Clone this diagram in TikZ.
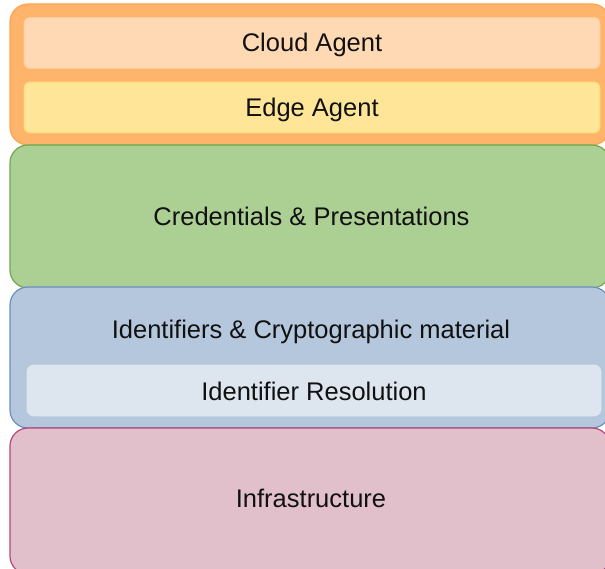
\documentclass[tikz,border=0pt]{standalone}
\usepackage{fontspec}
\setmainfont{Liberation Sans}
\definecolor{orfill}{HTML}{FFB46B}
\definecolor{orline}{HTML}{FFA64D}
\definecolor{cloudfill}{HTML}{FFD9B4}
\definecolor{cloudline}{HTML}{FFCC99}
\definecolor{edgefill}{HTML}{FFE597}
\definecolor{edgeline}{HTML}{FFD966}
\definecolor{grfill}{HTML}{ACD094}
\definecolor{grline}{HTML}{6DA84F}
\definecolor{blfill}{HTML}{B4C7DC}
\definecolor{blline}{HTML}{6C8EBF}
\definecolor{resfill}{HTML}{DDE5EE}
\definecolor{pkfill}{HTML}{E1C0CB}
\definecolor{pkline}{HTML}{B3467A}
\definecolor{txt}{HTML}{111111}
\tikzset{
  layer/.style={rounded corners=18pt, line width=1.2pt, inner sep=0pt},
  inner/.style={rounded corners=7pt, line width=0.8pt, inner sep=0pt, minimum width=576pt, minimum height=51pt},
  lbl/.style={text=txt, font=\fontsize{25.5}{30}\selectfont, inner sep=0pt, text height=18.3pt, text depth=0pt}
}
\begin{document}
\begin{tikzpicture}[x=1pt,y=-1pt]
\useasboundingbox (0,0) rectangle (605,569);
\clip (0,0) rectangle (605,569);
% orange agents layer
\node[layer, draw=orline, fill=orfill, minimum width=600pt, minimum height=141pt] (agents) at (310,74.5) {};
\node[inner, draw=cloudline, fill=cloudfill, rounded corners=6pt] (cloud) at (312,43) {};
\node[lbl] (cloudlbl) at (312,42.5) {Cloud Agent};
\node[inner, draw=edgeline, fill=edgefill, rounded corners=6pt] (edge) at (312,107.5) {};
\node[lbl] (edgelbl) at (312,107.3) {Edge Agent};
% green credentials layer
\node[layer, draw=grline, fill=grfill, minimum width=600pt, minimum height=143pt] (cred) at (310,216.5) {};
\node[lbl] (credlbl) at (311.5,216) {Credentials \& Presentations};
% blue identifiers layer
\node[layer, draw=blline, fill=blfill, minimum width=600pt, minimum height=141pt] (ident) at (310,357.5) {};
\node[lbl] (identlbl) at (311,329) {Identifiers \& Cryptographic material};
\node[inner, draw=resfill, fill=resfill, minimum width=574pt] (res) at (314,390.5) {};
\node[lbl] (reslbl) at (314,391) {Identifier Resolution};
% pink infrastructure layer
\node[layer, draw=pkline, fill=pkfill, minimum width=600pt, minimum height=146pt] (infra) at (310,501) {};
\node[lbl] (infralbl) at (311,498.5) {Infrastructure};
\end{tikzpicture}
\end{document}
